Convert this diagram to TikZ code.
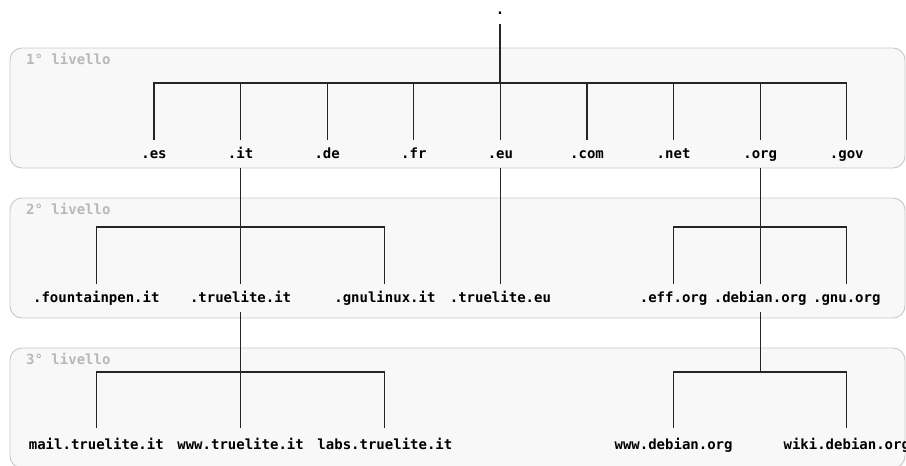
\documentclass[tikz,border=0pt]{standalone}
\usepackage{fontspec}
\setmonofont{DejaVu Sans Mono}
\usetikzlibrary{calc, positioning}

\definecolor{panelfill}{HTML}{F8F8F8}
\definecolor{panelline}{HTML}{C8C8C8}
\definecolor{levelgray}{HTML}{B8B8B8}

\tikzset{
  panel/.style={draw=panelline, fill=panelfill, line width=0.9pt, rounded corners=12pt},
  level/.style={anchor=base west, inner sep=0pt, text=levelgray,
    font=\fontsize{14}{16}\selectfont\ttfamily\bfseries},
  dom/.style={anchor=base, inner xsep=0pt, inner ysep=7pt, text height=11pt, text depth=3pt,
    font=\fontsize{14}{16}\selectfont\ttfamily\bfseries},
  leaf/.style={dom, inner ysep=10pt},
  link/.style={draw=black!85, line width=1.1pt}
}

\begin{document}
\begin{tikzpicture}[x=1pt, y=-1pt]
  \useasboundingbox (0,0) rectangle (906,466);

  % the three levels
  \foreach \t [count=\i] in {48,198,348}{
    \draw[panel] (10,\t) rectangle (905,\t+120);
    \node[level] (level\i) at (26,\t+16) {\i° livello};
  };

  \node[dom] (root) at (500,14) {.};
  \foreach \n [count=\i from 0] in {es,it,de,fr,eu,com,net,org,gov}
    \node[dom] (\n) at (154+86.6*\i,158) {.\n};

  \node[dom] (fountainpen) at (96.3,302) {.fountainpen.it};
  \node[dom] (truelite) at (it |- 0,302) {.truelite.it};
  \node[dom] (gnulinux) at (384.9,302) {.gnulinux.it};
  \node[dom] (trueliteeu) at (eu |- 0,302) {.truelite.eu};
  \node[dom] (eff) at (net |- 0,302) {.eff.org};
  \node[dom] (debian) at (org |- 0,302) {.debian.org};
  \node[dom] (gnu) at (gov |- 0,302) {.gnu.org};

  \node[leaf] (mail) at (fountainpen |- 0,449) {mail.truelite.it};
  \node[leaf] (www) at (truelite |- 0,449) {www.truelite.it};
  \node[leaf] (labs) at (gnulinux |- 0,449) {labs.truelite.it};
  \node[leaf] (wwwdebian) at (eff |- 0,449) {www.debian.org};
  \node[leaf] (wiki) at (gnu |- 0,449) {wiki.debian.org};

  \coordinate (barroot) at (root |- 0,83);
  \coordinate (barit) at (it |- 0,227);
  \coordinate (barorg) at (org |- 0,227);
  \coordinate (bartruelite) at (truelite |- 0,372);
  \coordinate (bardebian) at (debian |- 0,372);

  \foreach \c in {es,it,de,fr,eu,com,net,org,gov}
    \draw[link] (root.south) -- (barroot) -| (\c.north);
  \foreach \c in {fountainpen,truelite,gnulinux}
    \draw[link] (it.south) -- (barit) -| (\c.north);
  \draw[link] (eu.south) -- (trueliteeu.north);
  \foreach \c in {eff,debian,gnu}
    \draw[link] (org.south) -- (barorg) -| (\c.north);
  \foreach \c in {mail,www,labs}
    \draw[link] (truelite.south) -- (bartruelite) -| (\c.north);
  \foreach \c in {wwwdebian,wiki}
    \draw[link] (debian.south) -- (bardebian) -| (\c.north);
\end{tikzpicture}
\end{document}
